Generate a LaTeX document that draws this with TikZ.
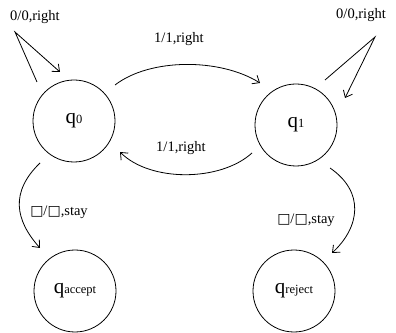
\documentclass[tikz,border=0pt]{standalone}
\usepackage{fontspec}
\setmainfont{Liberation Serif}
\newfontfamily\symf{DejaVu Sans}
\usetikzlibrary{arrows.meta}
\tikzset{
  state/.style={circle,draw,line width=0.8pt,minimum size=82pt,inner sep=0pt},
  trans/.style={line width=0.8pt,-{Straight Barb[length=6pt,width=10pt]}},
  lbl/.style={font=\fontsize{14.5}{15}\selectfont,inner sep=0pt},
}
\newcommand{\qname}[1]{{\fontsize{21}{21}\selectfont q}{\fontsize{12.5}{13}\selectfont #1}}
\newcommand{\blk}{{\symf\fontsize{14}{14}\selectfont □}}
\begin{document}
\begin{tikzpicture}[x=1pt,y=1pt]
\useasboundingbox (0,0) rectangle (396,332);
\node[state] (q0) at (74,211) {\qname{0}};
\node[state] (q1) at (296,207) {\qname{1}};
\node[state] (qa) at (75,41) {\qname{accept}};
\node[state] (qr) at (294,41) {\qname{reject}};

% self loop q0
\coordinate (l0s) at (37,250);
\coordinate (l0a) at (15,300);
\coordinate (l0e) at (60,260);
\draw[trans] (l0s) -- (l0a) -- (l0e);
\node[lbl] (t0) at (35,315) {0/0,right};

% self loop q1
\coordinate (l1s) at (325,252);
\coordinate (l1a) at (375,295);
\coordinate (l1e) at (345,234);
\draw[trans] (l1s) -- (l1a) -- (l1e);
\node[lbl] (t1) at (361,317) {0/0,right};

% q0 -> q1
\coordinate (a1s) at (115,247);
\coordinate (a1e) at (260,249);
\draw[trans] (a1s) .. controls (150,274) and (220,274) .. (a1e);
\node[lbl] (t2) at (179,293) {1/1,right};

% q1 -> q0
\coordinate (a2s) at (252,179);
\coordinate (a2e) at (120,180);
\draw[trans] (a2s) .. controls (220,150) and (150,150) .. (a2e);
\node[lbl] (t3) at (181,184) {1/1,right};

% q0 -> accept
\coordinate (a3s) at (40,169);
\coordinate (a3e) at (40,84);
\draw[trans] (a3s) .. controls (10,140) and (15,112) .. (a3e);
\node[lbl] (t4) at (59,120) {\blk/\blk,stay};

% q1 -> reject
\coordinate (a4s) at (330,164);
\coordinate (a4e) at (332,79);
\draw[trans] (a4s) .. controls (365,140) and (360,105) .. (a4e);
\node[lbl] (t5) at (306,112) {\blk/\blk,stay};
\end{tikzpicture}
\end{document}
